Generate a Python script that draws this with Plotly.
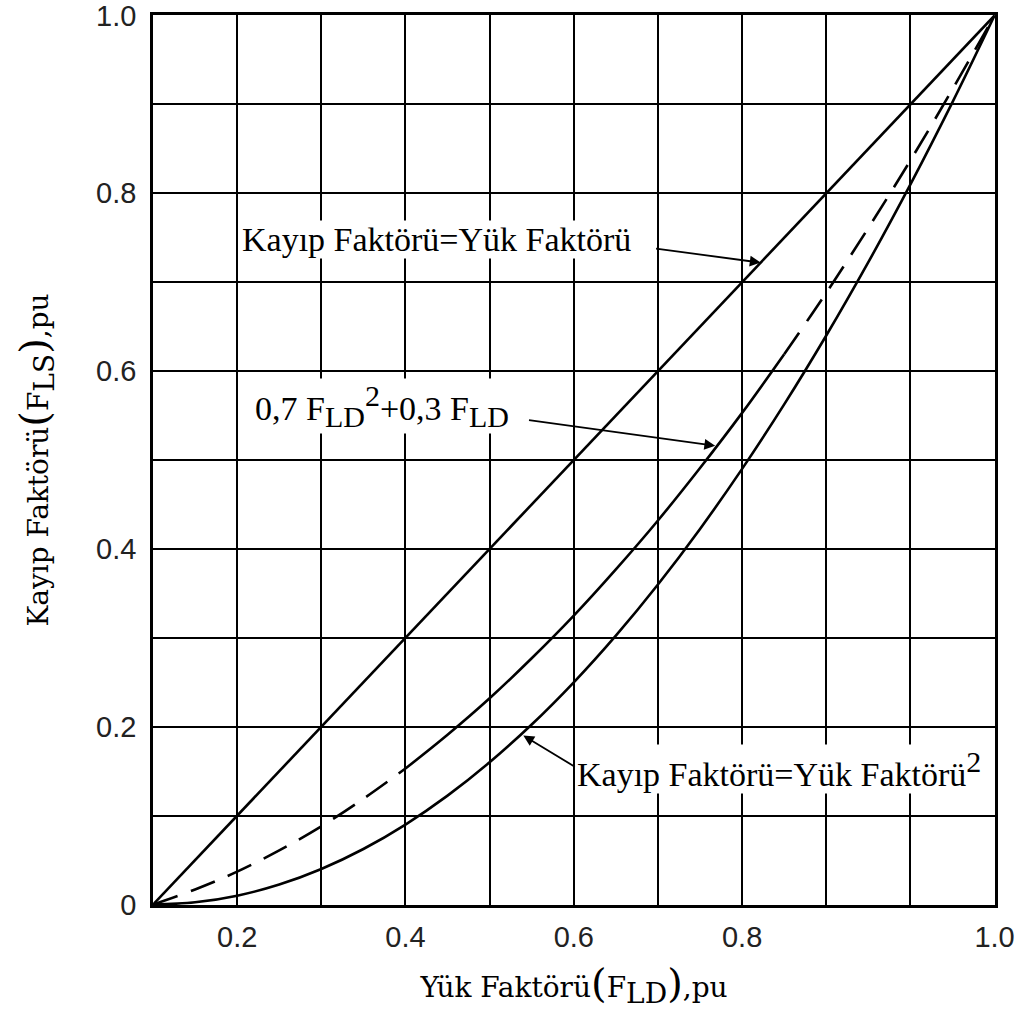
import plotly.graph_objects as go

# Load factor (x) and loss-factor readings (y) for the three curves
load_factor = [0.0, 0.05, 0.1, 0.15, 0.2, 0.25, 0.3, 0.35, 0.4, 0.45, 0.5,
               0.55, 0.6, 0.65, 0.7, 0.75, 0.8, 0.85, 0.9, 0.95, 1.0]
loss_equal = [0.0, 0.05, 0.1, 0.15, 0.2, 0.25, 0.3, 0.35, 0.4, 0.45, 0.5,
              0.55, 0.6, 0.65, 0.7, 0.75, 0.8, 0.85, 0.9, 0.95, 1.0]
loss_mixed = [0.0, 0.017, 0.037, 0.061, 0.088, 0.119, 0.153, 0.191, 0.232, 0.277, 0.325,
              0.377, 0.432, 0.491, 0.553, 0.619, 0.688, 0.761, 0.837, 0.917, 1.0]
loss_square = [0.0, 0.0025, 0.01, 0.0225, 0.04, 0.0625, 0.09, 0.1225, 0.16, 0.2025, 0.25,
               0.3025, 0.36, 0.4225, 0.49, 0.5625, 0.64, 0.7225, 0.81, 0.9025, 1.0]

# index ranges for dashed / solid parts of the middle curve
dash_lo = (0, 7)     # 0 .. 0.30
solid_mid = (6, 16)  # 0.30 .. 0.75
dash_hi = (15, 21)   # 0.75 .. 1.0

x_tickvals = [0.1, 0.3, 0.5, 0.7, 1.0]
x_ticktext = ["0.2", "0.4", "0.6", "0.8", "1.0"]
y_tickvals = [0, 0.2, 0.4, 0.6, 0.8, 1.0]
y_ticktext = ["0", "0.2", "0.4", "0.6", "0.8", "1.0"]

LW = 2.6
serif = "Liberation Serif, Times New Roman, serif"
title_serif = "DejaVu Serif, serif"
sans = "Liberation Sans, Arial, sans-serif"

fig = go.Figure()
fig.add_trace(go.Scatter(x=load_factor, y=loss_equal, mode="lines",
                         line=dict(color="black", width=LW), showlegend=False))
fig.add_trace(go.Scatter(x=load_factor, y=loss_square, mode="lines", line_shape="spline",
                         line=dict(color="black", width=LW), showlegend=False))
for (a, b), dash in [(dash_lo, "26px,14px"), (solid_mid, "solid"), (dash_hi, "26px,14px")]:
    fig.add_trace(go.Scatter(x=load_factor[a:b], y=loss_mixed[a:b], mode="lines",
                             line_shape="spline",
                             line=dict(color="black", width=LW, dash=dash), showlegend=False))

ann_font = dict(family=serif, size=34, color="black")
big = '<span style="font-size:30px">{}</span>'
annotations = [
    dict(x=0.105, y=0.748, xref="x", yref="y", text="Kayıp Faktörü=Yük Faktörü",
         showarrow=False, xanchor="left", yanchor="middle", font=ann_font,
         bgcolor="white", borderpad=0),
    dict(x=0.12, y=0.561, xref="x", yref="y",
         text="0,7 F<sub>" + big.format("LD") + "</sub><sup>" + big.format("2")
              + "</sup>+0,3 F<sub>" + big.format("LD") + "</sub>",
         showarrow=False, xanchor="left", yanchor="middle", font=ann_font,
         bgcolor="white", borderpad=0),
    dict(x=0.503, y=0.152, xref="x", yref="y",
         text="Kayıp Faktörü=Yük Faktörü<sup>" + big.format("2") + "</sup>",
         showarrow=False, xanchor="left", yanchor="middle", font=ann_font,
         bgcolor="white", borderpad=0),
    # arrows
    dict(x=0.722, y=0.722, ax=0.596, ay=0.738, xref="x", yref="y", axref="x", ayref="y",
         text="", showarrow=True, arrowhead=2, arrowsize=1.2, arrowwidth=1.8, arrowcolor="black"),
    dict(x=0.668, y=0.516, ax=0.445, ay=0.545, xref="x", yref="y", axref="x", ayref="y",
         text="", showarrow=True, arrowhead=2, arrowsize=1.2, arrowwidth=1.8, arrowcolor="black"),
    dict(x=0.44, y=0.19, ax=0.503, ay=0.154, xref="x", yref="y", axref="x", ayref="y",
         text="", showarrow=True, arrowhead=2, arrowsize=1.2, arrowwidth=1.8, arrowcolor="black"),
]

paren = '<span style="font-size:40px">{}</span>'
sub_full = '<sub><span style="font-size:28px">{}</span></sub>'
x_title = "Yük Faktörü" + paren.format("(") + "F" + sub_full.format("LD") + paren.format(")") + ",pu"
y_title = "Kayıp Faktörü" + paren.format("(") + "F" + sub_full.format("LS") + paren.format(")") + ",pu"

fig.update_layout(
    width=1030, height=1019,
    margin=dict(l=153, r=35, t=15, b=114, autoexpand=False),
    paper_bgcolor="white", plot_bgcolor="white",
    annotations=annotations,
    xaxis=dict(range=[0, 1.0005], tickmode="array", tickvals=x_tickvals, ticktext=x_ticktext,
               automargin=False,
               showgrid=True, gridcolor="black", gridwidth=2,
               minor=dict(tickmode="linear", tick0=0, dtick=0.1, showgrid=True,
                          gridcolor="black", gridwidth=2),
               showline=True, linecolor="black", linewidth=2.5, mirror=True,
               zeroline=False, ticks="", ticklabelstandoff=4, ticklabeloverflow="allow",
               tickfont=dict(family=sans, size=29, color="#222"),
               title=dict(text=x_title, standoff=26,
                          font=dict(family=title_serif, size=28, color="black"))),
    yaxis=dict(range=[-0.0005, 1.0005], tickmode="array", tickvals=y_tickvals, ticktext=y_ticktext,
               automargin=False,
               showgrid=True, gridcolor="black", gridwidth=2,
               minor=dict(tickmode="linear", tick0=0, dtick=0.1, showgrid=True,
                          gridcolor="black", gridwidth=2),
               showline=True, linecolor="black", linewidth=2.5, mirror=True,
               zeroline=False, ticks="", ticklabelstandoff=8, ticklabeloverflow="allow",
               tickfont=dict(family=sans, size=29, color="#222"),
               title=dict(text=y_title, standoff=40,
                          font=dict(family=title_serif, size=28, color="black"))),
)

fig.write_html("out.html")
